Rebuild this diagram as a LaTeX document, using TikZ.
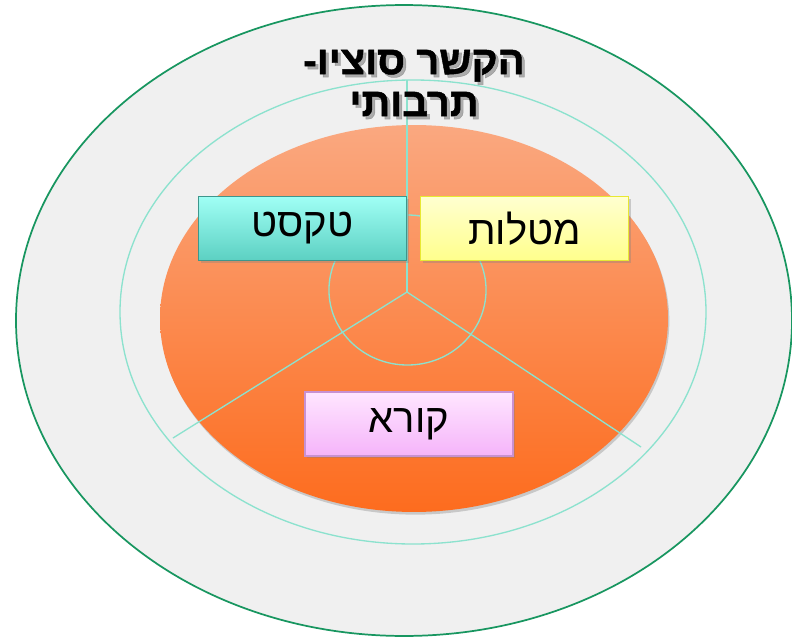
\documentclass[tikz,border=0pt]{standalone}
\usepackage{fontspec}
\setmainfont{Liberation Sans}
\newfontfamily\hebfont[Script=Hebrew]{Liberation Sans}
\newfontfamily\hebheavy[Script=Hebrew, BoldFeatures={FakeBold=1.2}]{Liberation Sans}
\TeXXeTstate=1
\usetikzlibrary{shadows}
\definecolor{ringgreen}{RGB}{24,150,96}
\definecolor{outergray}{RGB}{240,240,240}
\definecolor{spoke}{RGB}{140,226,206}
\definecolor{orangetop}{RGB}{250,168,128}
\definecolor{orangebot}{RGB}{253,108,30}
\begin{document}
\begin{tikzpicture}[x=0.75pt, y=-0.75pt,
  labelbox/.style={rectangle, draw, line width=0.9pt, minimum width=156pt, minimum height=48pt,
    font=\hebfont\fontsize{30}{34}\selectfont,
    drop shadow={opacity=0.35, shadow xshift=1.5pt, shadow yshift=-1.5pt}},
  titletext/.style={align=center, font=\hebheavy\bfseries\fontsize{30}{31.5}\selectfont},
  spokeline/.style={draw=spoke, line width=1pt}]
\useasboundingbox (0,0) rectangle (792,642);
% outer context
\filldraw[fill = outergray, draw = ringgreen, line width = 1.3pt] (404,320.5) ellipse [x radius = 291pt, y radius = 236.6pt];
\draw[spokeline] (413,312) ellipse [x radius = 219.75pt, y radius = 174pt];
% orange core
\shade[top color = orangetop, bottom color = orangebot, drop shadow = {opacity = 0.35, shadow xshift = 1pt, shadow yshift = -2pt}] (414,318.5) ellipse [x radius = 190.5pt, y radius = 145.1pt];
% spokes
\coordinate (hub) at (407,292);
\coordinate (spoketop) at (407,80);
\coordinate (spokeleft) at (173,438);
\coordinate (spokeright) at (641,447);
\draw[spokeline] (hub) -- (spoketop);
\draw[spokeline] (hub) -- (spokeleft);
\draw[spokeline] (hub) -- (spokeright);
\draw[spokeline] (407.5,290) ellipse [x radius = 58.9pt, y radius = 56.25pt];
% boxes
\node[labelbox, top color = {rgb,255:red,160;green,255;blue,245}, bottom color = {rgb,255:red,92;green,208;blue,194}, draw = {rgb,255:red,62;green,150;blue,140}] at (302.5,228.5) (text) {\beginR טקסט\endR};
\node[labelbox, top color = {rgb,255:red,255;green,255;blue,208}, bottom color = {rgb,255:red,255;green,255;blue,140}, draw = {rgb,255:red,232;green,232;blue,50}] at (524.5,228.5) (tasks) {\beginR מטלות\endR};
\node[labelbox, top color = {rgb,255:red,255;green,230;blue,255}, bottom color = {rgb,255:red,245;green,180;blue,250}, draw = {rgb,255:red,200;green,145;blue,210}] at (409,424) (reader) {\beginR קורא\endR};
% title
\node[titletext, text = black!50, opacity = 0.6] at (417,86) (titleshadow) {\beginR הקשר סוציו-\endR\\\beginR תרבותי\endR};
\node[titletext] at (414,83) (title) {\beginR הקשר סוציו-\endR\\\beginR תרבותי\endR};
\end{tikzpicture}
\end{document}
